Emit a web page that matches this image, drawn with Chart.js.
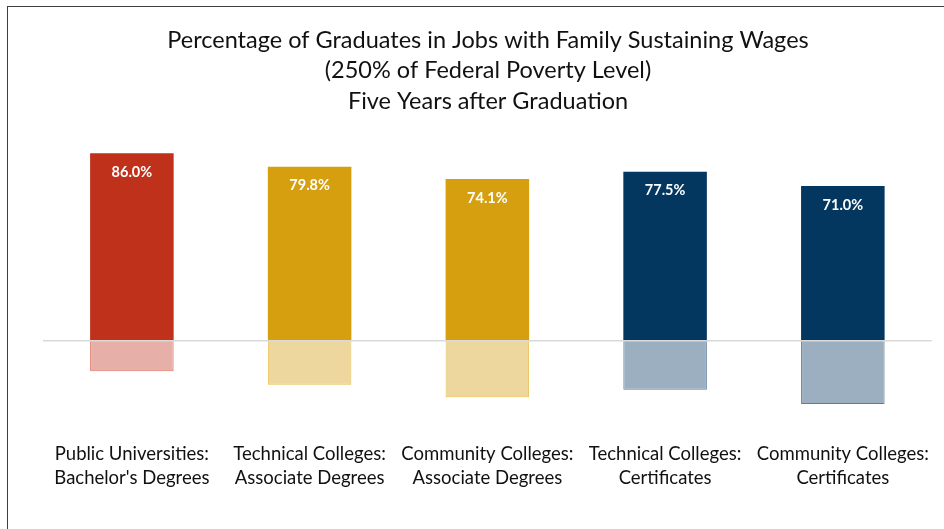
<!DOCTYPE html>
<html>
<head>
<meta charset="utf-8">
<script src="https://cdn.jsdelivr.net/npm/chart.js@4/dist/chart.umd.min.js"></script>
<style>
  html, body { margin: 0; padding: 0; background: #fff; }
  #wrap { position: relative; width: 944px; height: 529px; }
  #frame { position: absolute; left: 7px; top: 6px; right: -5px; bottom: -5px;
           border-left: 1.5px solid #3f3f3f; border-top: 1.5px solid #3f3f3f; pointer-events: none; }
</style>
</head>
<body>
<div id="wrap">
  <canvas id="myBarChart" width="944" height="529"></canvas>
  <div id="frame"></div>
</div>
<script>
// categories, values
var categories = [
  ['Public Universities:', "Bachelor's Degrees"],
  ['Technical Colleges:', 'Associate Degrees'],
  ['Community Colleges:', 'Associate Degrees'],
  ['Technical Colleges:', 'Certificates'],
  ['Community Colleges:', 'Certificates']
];
var sustaining = [86.0, 79.8, 74.1, 77.5, 71.0];
var notSustaining = [-14.0, -20.2, -25.9, -22.5, -29.0];

var mainColors = ['#BF311A', '#D59F0F', '#D59F0F', '#03375F', '#03375F'];
var lightColors = ['#E6AFA8', '#EED69F', '#EED69F', '#9BAFC0', '#9BAFC0'];
var lightBorders = ['#E37264', '#E9BE4C', '#E9BE4C', '#5E7D9B', '#5E7D9B'];

var FONT = 'Lato, "Open Sans", sans-serif';

// white value labels inside the top of each bar + zero line
var barLabels = {
  id: 'barLabels',
  afterDatasetsDraw: function(chart) {
    var ctx = chart.ctx;
    var area = chart.chartArea;
    var y0 = chart.scales.y.getPixelForValue(0);
    ctx.save();
    ctx.strokeStyle = '#D9D9D9';
    ctx.lineWidth = 1.5;
    ctx.beginPath();
    ctx.moveTo(area.left, y0);
    ctx.lineTo(area.right, y0);
    ctx.stroke();

    ctx.fillStyle = '#ffffff';
    ctx.font = 'bold 14.5px ' + FONT;
    ctx.textAlign = 'center';
    ctx.textBaseline = 'middle';
    chart.getDatasetMeta(0).data.forEach(function(bar, i) {
      ctx.fillText(sustaining[i].toFixed(1) + '%', bar.x, bar.y + 19);
    });
    ctx.restore();
  }
};

var ctxBar = document.getElementById('myBarChart').getContext('2d');
var myChart = new Chart(ctxBar, {
  type: 'bar',
  data: {
    labels: categories,
    datasets: [{
      label: 'Family sustaining wage',
      data: sustaining,
      backgroundColor: mainColors,
      borderWidth: 0
    },
    {
      label: 'Below',
      data: notSustaining,
      backgroundColor: lightColors,
      borderColor: lightBorders,
      borderWidth: 1
    }]
  },
  options: {
    responsive: false,
    animation: false,
    categoryPercentage: 1,
    barPercentage: 0.47,
    layout: { padding: { left: 43, right: 11, top: 0, bottom: 25 } },
    plugins: {
      legend: { display: false },
      tooltip: { enabled: false },
      title: {
        display: true,
        text: ['Percentage of Graduates in Jobs with Family Sustaining Wages',
               '(250% of Federal Poverty Level)',
               'Five Years after Graduation'],
        color: '#111',
        font: { family: FONT, size: 23.5, weight: 'normal', lineHeight: 1.3 },
        padding: { top: 25, bottom: 6 }
      }
    },
    scales: {
      x: {
        stacked: true,
        grid: { display: false, drawTicks: false },
        border: { display: false },
        ticks: {
          color: '#111',
          padding: 14,
          maxRotation: 0,
          autoSkip: false,
          font: { family: FONT, size: 18.5, lineHeight: 1.3 }
        }
      },
      y: {
        stacked: true,
        display: false,
        min: -40,
        max: 100
      }
    }
  },
  plugins: [barLabels]
});
</script>
</body>
</html>
